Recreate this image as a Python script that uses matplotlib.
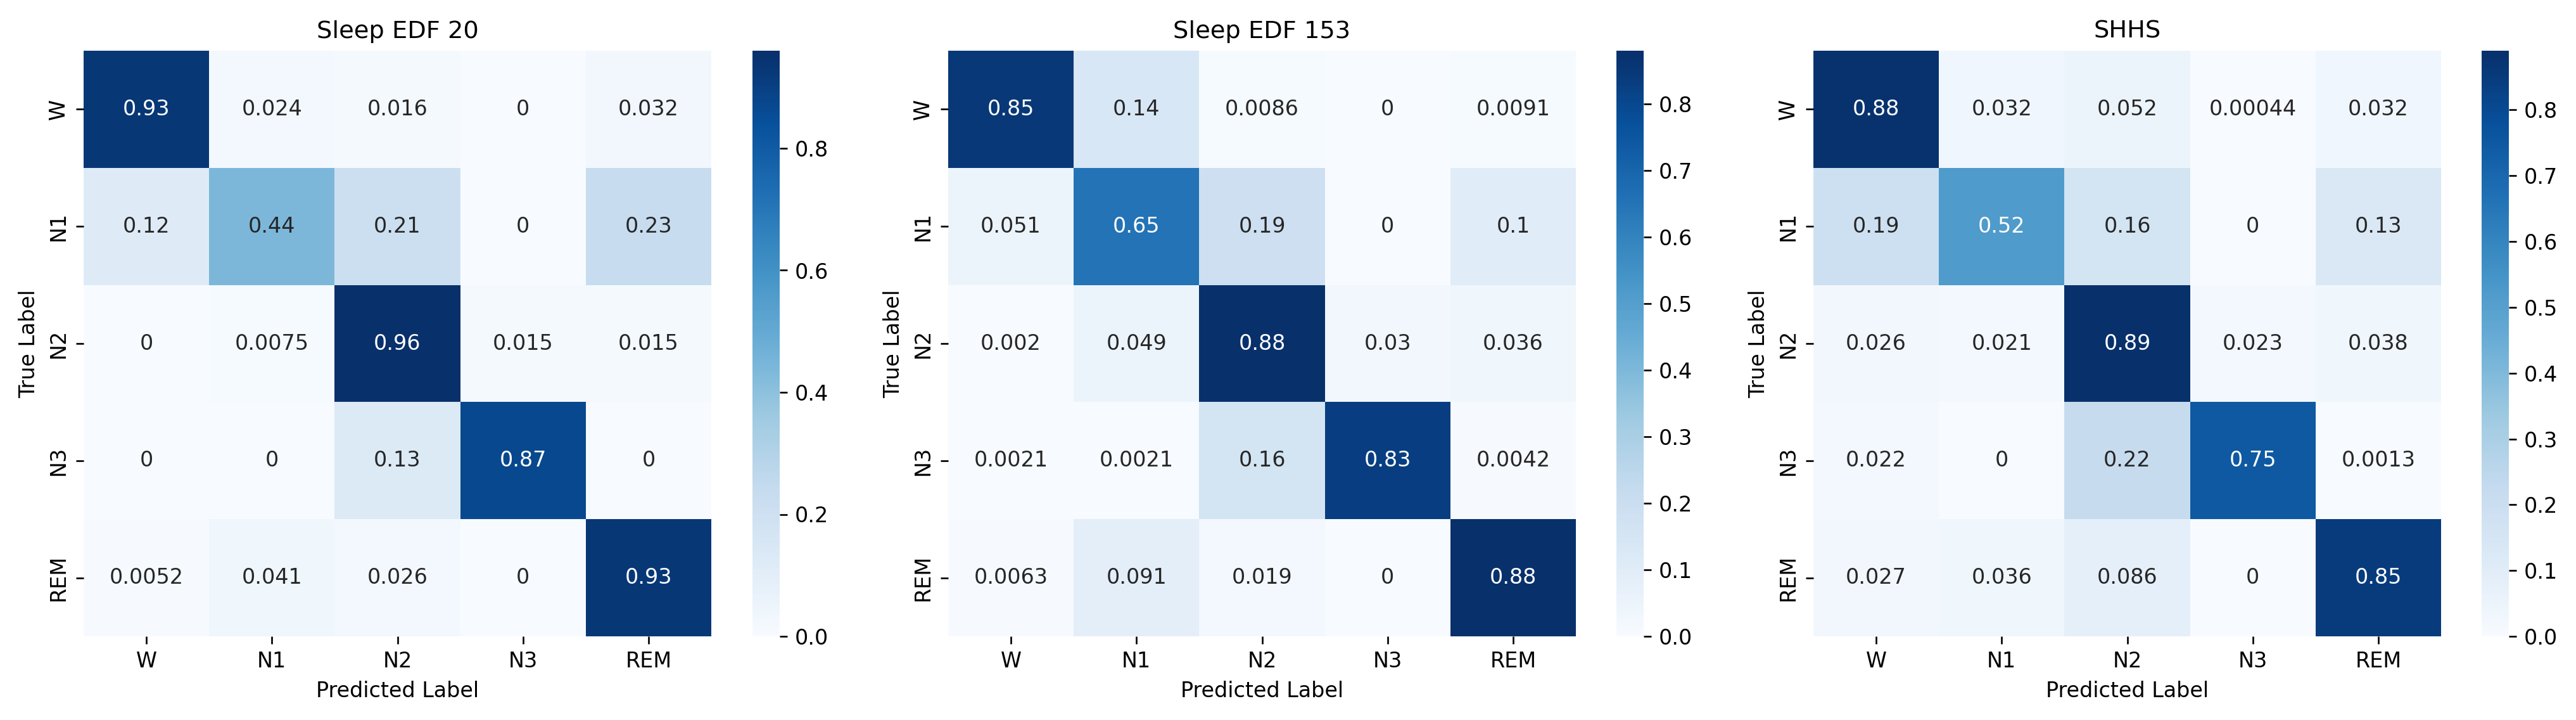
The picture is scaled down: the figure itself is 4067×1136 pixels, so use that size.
import numpy as np
import matplotlib
matplotlib.use("Agg")
import matplotlib.pyplot as plt
import seaborn as sns

# Sleep stage labels
labels = ["W", "N1", "N2", "N3", "REM"]
titles = ["Sleep EDF 20", "Sleep EDF 153", "SHHS"]

# Normalized confusion matrices (rows = true, cols = predicted)
cm_edf20 = [
    [0.93, 0.024, 0.016, 0, 0.032],
    [0.12, 0.44, 0.21, 0, 0.23],
    [0, 0.0075, 0.96, 0.015, 0.015],
    [0, 0, 0.13, 0.87, 0],
    [0.0052, 0.041, 0.026, 0, 0.93],
]
cm_edf153 = [
    [0.85, 0.14, 0.0086, 0, 0.0091],
    [0.051, 0.65, 0.19, 0, 0.1],
    [0.002, 0.049, 0.88, 0.03, 0.036],
    [0.0021, 0.0021, 0.16, 0.83, 0.0042],
    [0.0063, 0.091, 0.019, 0, 0.88],
]
cm_shhs = [
    [0.88, 0.032, 0.052, 0.00044, 0.032],
    [0.19, 0.52, 0.16, 0, 0.13],
    [0.026, 0.021, 0.89, 0.023, 0.038],
    [0.022, 0, 0.22, 0.75, 0.0013],
    [0.027, 0.036, 0.086, 0, 0.85],
]

matrices = [cm_edf20, cm_edf153, cm_shhs]

W, H, dpi = 4067, 1136, 240
fig = plt.figure(figsize=(W / dpi, H / dpi))

# pixel layout of each panel (heatmap left edge, colorbar left edge)
hm_left = [132, 1497, 2863]
cb_left = [1188, 2552, 3918]
hm_w, cb_w = 991, 43
top, bottom = 80, 1004

for i, (cm, title) in enumerate(zip(matrices, titles)):
    ax = fig.add_axes([hm_left[i] / W, 1 - bottom / H, hm_w / W, (bottom - top) / H])
    cax = fig.add_axes([cb_left[i] / W, 1 - bottom / H, cb_w / W, (bottom - top) / H])
    sns.heatmap(np.array(cm), annot=True, cmap="Blues",
                xticklabels=labels, yticklabels=labels, ax=ax, cbar_ax=cax)
    ax.set_title(title, fontsize=11.5)
    ax.set_xlabel("Predicted Label")
    ax.set_ylabel("True Label")

plt.savefig("out.png", dpi=dpi)
